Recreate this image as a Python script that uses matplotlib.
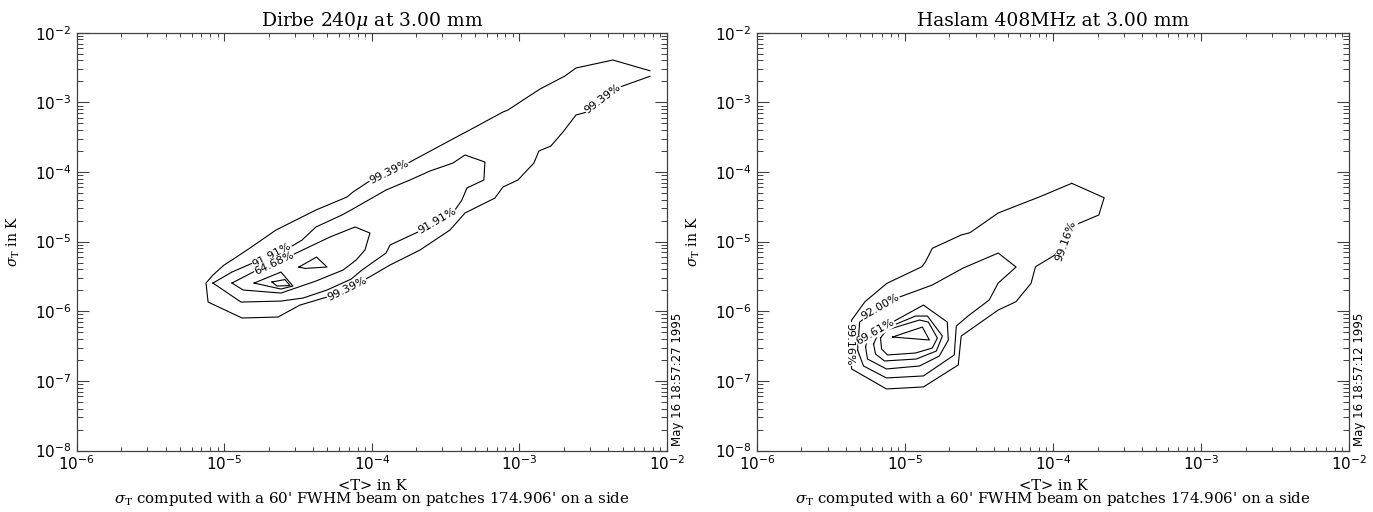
import numpy as np
import matplotlib
matplotlib.use("Agg")
import matplotlib.pyplot as plt
from matplotlib.ticker import LogLocator, NullFormatter

plt.rcParams['mathtext.fontset'] = 'dejavuserif'

# contour paths, as log10(<T>/K) and log10(sigma_T/K)
# --- Dirbe 240 micron panel
dirbe_c99_logT = [-2.116, -2.367, -2.617, -2.692, -2.861, -3.078, -3.112, -3.362, -3.383, -3.742,
                  -4.026, -4.128, -4.169, -4.379, -4.650, -4.826, -4.928, -5.002, -5.077, -5.124,
                  -5.110, -4.880, -4.636, -4.487, -4.304, -4.040, -3.877, -3.674, -3.471, -3.369,
                  -3.166, -3.112, -3.010, -2.902, -2.868, -2.787, -2.705, -2.617, -2.543, -2.319, -2.116]
dirbe_c99_logS = [-2.546, -2.392, -2.507, -2.622, -2.809, -3.110, -3.139, -3.426, -3.448, -3.857,
                  -4.144, -4.288, -4.360, -4.546, -4.834, -5.092, -5.236, -5.337, -5.480, -5.595,
                  -5.868, -6.097, -6.083, -5.911, -5.796, -5.537, -5.336, -5.121, -4.834, -4.589,
                  -4.374, -4.216, -4.115, -3.871, -3.699, -3.627, -3.426, -3.182, -3.139, -2.780, -2.626]

dirbe_c92_logT = [-5.077, -4.948, -4.792, -4.541, -4.473, -4.379, -4.203, -4.141, -3.904, -3.742,
                  -3.606, -3.450, -3.369, -3.234, -3.241, -3.356, -3.390, -3.437, -3.688, -3.877,
                  -3.904, -4.067, -4.141, -4.304, -4.466, -4.616, -4.887, -5.077]
dirbe_c92_logS = [-5.595, -5.437, -5.293, -5.063, -4.977, -4.790, -4.618, -4.546, -4.259, -4.115,
                  -3.986, -3.871, -3.756, -3.857, -4.115, -4.230, -4.403, -4.546, -4.862, -5.049,
                  -5.164, -5.408, -5.539, -5.695, -5.810, -5.854, -5.868, -5.595]

dirbe_c65_logT = [-4.948, -4.778, -4.541, -4.284, -4.114, -4.013, -4.047, -4.107, -4.195, -4.379, -4.616, -4.873, -4.948]
dirbe_c65_logS = [-5.595, -5.408, -5.193, -4.934, -4.790, -4.877, -5.121, -5.265, -5.408, -5.566, -5.739, -5.695, -5.595]

dirbe_peak_a_logT = [-4.798, -4.616, -4.535, -4.616, -4.798]
dirbe_peak_a_logS = [-5.595, -5.437, -5.638, -5.681, -5.595]
dirbe_peak_b_logT = [-4.677, -4.589, -4.555, -4.643, -4.677]
dirbe_peak_b_logS = [-5.580, -5.545, -5.631, -5.638, -5.580]
dirbe_peak_c_logT = [-4.494, -4.375, -4.304, -4.454, -4.494]
dirbe_peak_c_logS = [-5.365, -5.222, -5.365, -5.385, -5.365]

dirbe_labels = ['99.39%', '99.39%', '99.39%', '91.91%', '91.91%', '64.68%']
dirbe_label_logT = [-3.884, -4.169, -2.434, -4.677, -3.559, -4.663]
dirbe_label_logS = [-4.000, -5.681, -2.952, -5.193, -4.704, -5.308]
dirbe_label_rot = [26, 26, 37, 28, 30, 25]

# --- Haslam 408 MHz panel
haslam_c99_logT = [-3.873, -3.654, -3.690, -3.852, -3.912, -3.987, -4.118, -4.148, -4.250, -4.370,
                   -4.620, -4.640, -4.875, -5.125, -5.360, -5.380, -5.360, -5.270, -5.122, -4.886,
                   -4.862, -4.815, -4.620, -4.561, -4.370, -4.088, -3.873]
haslam_c99_logS = [-4.163, -4.370, -4.618, -4.762, -4.992, -5.193, -5.361, -5.599, -5.863, -5.983,
                   -6.356, -6.772, -7.087, -7.116, -6.829, -6.485, -6.126, -5.863, -5.599, -5.361,
                   -5.293, -5.096, -4.905, -4.872, -4.589, -4.355, -4.163]

haslam_c92_logT = [-5.320, -5.306, -5.172, -5.037, -4.815, -4.606, -4.370, -4.249, -4.370,
                   -4.431, -4.566, -4.653, -4.667, -4.875, -5.125, -5.280, -5.320]
haslam_c92_logS = [-6.557, -6.155, -5.939, -5.796, -5.623, -5.379, -5.164, -5.365, -5.595,
                   -5.839, -6.055, -6.212, -6.628, -6.929, -6.958, -6.786, -6.557]

haslam_c70_logT = [-5.266, -5.253, -5.084, -4.875, -4.714, -4.707, -4.768, -4.902, -5.125, -5.253, -5.266]
haslam_c70_logS = [-6.514, -6.385, -6.155, -5.911, -6.155, -6.413, -6.643, -6.786, -6.829, -6.686, -6.514]

haslam_in1_logT = [-5.212, -5.172, -4.929, -4.848, -4.747, -4.788, -4.923, -5.138, -5.199, -5.212]
haslam_in1_logS = [-6.471, -6.284, -6.069, -6.069, -6.356, -6.571, -6.686, -6.714, -6.614, -6.471]
haslam_in2_logT = [-5.165, -5.125, -4.902, -4.842, -4.781, -4.815, -4.929, -5.118, -5.158, -5.165]
haslam_in2_logS = [-6.385, -6.270, -6.126, -6.155, -6.385, -6.528, -6.600, -6.628, -6.542, -6.385]
haslam_peak_logT = [-5.084, -4.882, -4.835, -5.084]
haslam_peak_logS = [-6.370, -6.227, -6.413, -6.370]

haslam_labels = ['99.16%', '99.16%', '92.00%', '69.61%']
haslam_label_logT = [-3.912, -5.374, -5.165, -5.199]
haslam_label_logS = [-4.992, -6.471, -5.939, -6.298]
haslam_label_rot = [70, -90, 30, 30]

subtitle = r"$\sigma_{\rm T}$ computed with a 60' FWHM beam on patches 174.906' on a side"

fig = plt.figure(figsize=(13.73, 5.12), dpi=100)
ax1 = fig.add_axes([0.0559, 0.1201, 0.4299, 0.8160])
ax2 = fig.add_axes([0.5513, 0.1201, 0.4312, 0.8160])


def setup(ax, title, stamp):
    ax.set_xscale('log')
    ax.set_yscale('log')
    ax.set_xlim(1e-6, 1e-2)
    ax.set_ylim(1e-8, 1e-2)
    for a in (ax.xaxis, ax.yaxis):
        a.set_major_locator(LogLocator(base=10, numticks=20))
        a.set_minor_locator(LogLocator(base=10, subs=np.arange(2, 10), numticks=20))
        a.set_minor_formatter(NullFormatter())
    ax.tick_params(axis='x', which='major', direction='in', length=6, width=0.8,
                   top=True, pad=3, labelsize=11, color='#404040')
    ax.tick_params(axis='x', which='minor', direction='in', length=3, width=0.7,
                   top=True, color='#404040')
    ax.tick_params(axis='y', which='major', direction='in', length=8.5, width=0.8,
                   right=True, pad=4, labelsize=11, color='#404040')
    ax.tick_params(axis='y', which='minor', direction='in', length=4.3, width=0.7,
                   right=True, color='#404040')
    for s in ax.spines.values():
        s.set_color('#404040')
        s.set_linewidth(0.9)
    ax.set_title(title, family='DejaVu Serif', fontsize=13.5, pad=5)
    ax.set_xlabel('<T> in K', family='DejaVu Serif', fontsize=10.5)
    ax.xaxis.set_label_coords(0.5, -0.068)
    ax.set_ylabel(r'$\sigma_{\rm T}$ in K', family='DejaVu Serif', fontsize=10)
    ax.yaxis.set_label_coords(-0.093, 0.50)
    ax.text(0.5, -0.117, subtitle, transform=ax.transAxes, ha='center', va='center',
            family='DejaVu Serif', fontsize=10.8)
    ax.text(1.018, 0.17, stamp, transform=ax.transAxes, rotation=90, ha='center',
            va='center', fontsize=8.5)


def draw(ax, paths, labels, lt, ls, rot):
    for t, s in paths:
        ax.plot(10 ** np.array(t), 10 ** np.array(s), color='black', lw=0.8)
    for txt, t, s, r in zip(labels, lt, ls, rot):
        ax.text(10 ** t, 10 ** s, txt, rotation=r, rotation_mode='anchor', ha='center',
                va='center', fontsize=8, zorder=5,
                bbox=dict(fc='white', ec='none', pad=0.2))


setup(ax1, r'Dirbe 240$\mu$ at 3.00 mm', 'May 16 18:57:27 1995')
draw(ax1,
     [(dirbe_c99_logT, dirbe_c99_logS), (dirbe_c92_logT, dirbe_c92_logS),
      (dirbe_c65_logT, dirbe_c65_logS), (dirbe_peak_a_logT, dirbe_peak_a_logS),
      (dirbe_peak_b_logT, dirbe_peak_b_logS), (dirbe_peak_c_logT, dirbe_peak_c_logS)],
     dirbe_labels, dirbe_label_logT, dirbe_label_logS, dirbe_label_rot)

setup(ax2, 'Haslam 408MHz at 3.00 mm', 'May 16 18:57:12 1995')
draw(ax2,
     [(haslam_c99_logT, haslam_c99_logS), (haslam_c92_logT, haslam_c92_logS),
      (haslam_c70_logT, haslam_c70_logS), (haslam_in1_logT, haslam_in1_logS),
      (haslam_in2_logT, haslam_in2_logS), (haslam_peak_logT, haslam_peak_logS)],
     haslam_labels, haslam_label_logT, haslam_label_logS, haslam_label_rot)

fig.savefig('out.png', dpi=100, facecolor='white')
